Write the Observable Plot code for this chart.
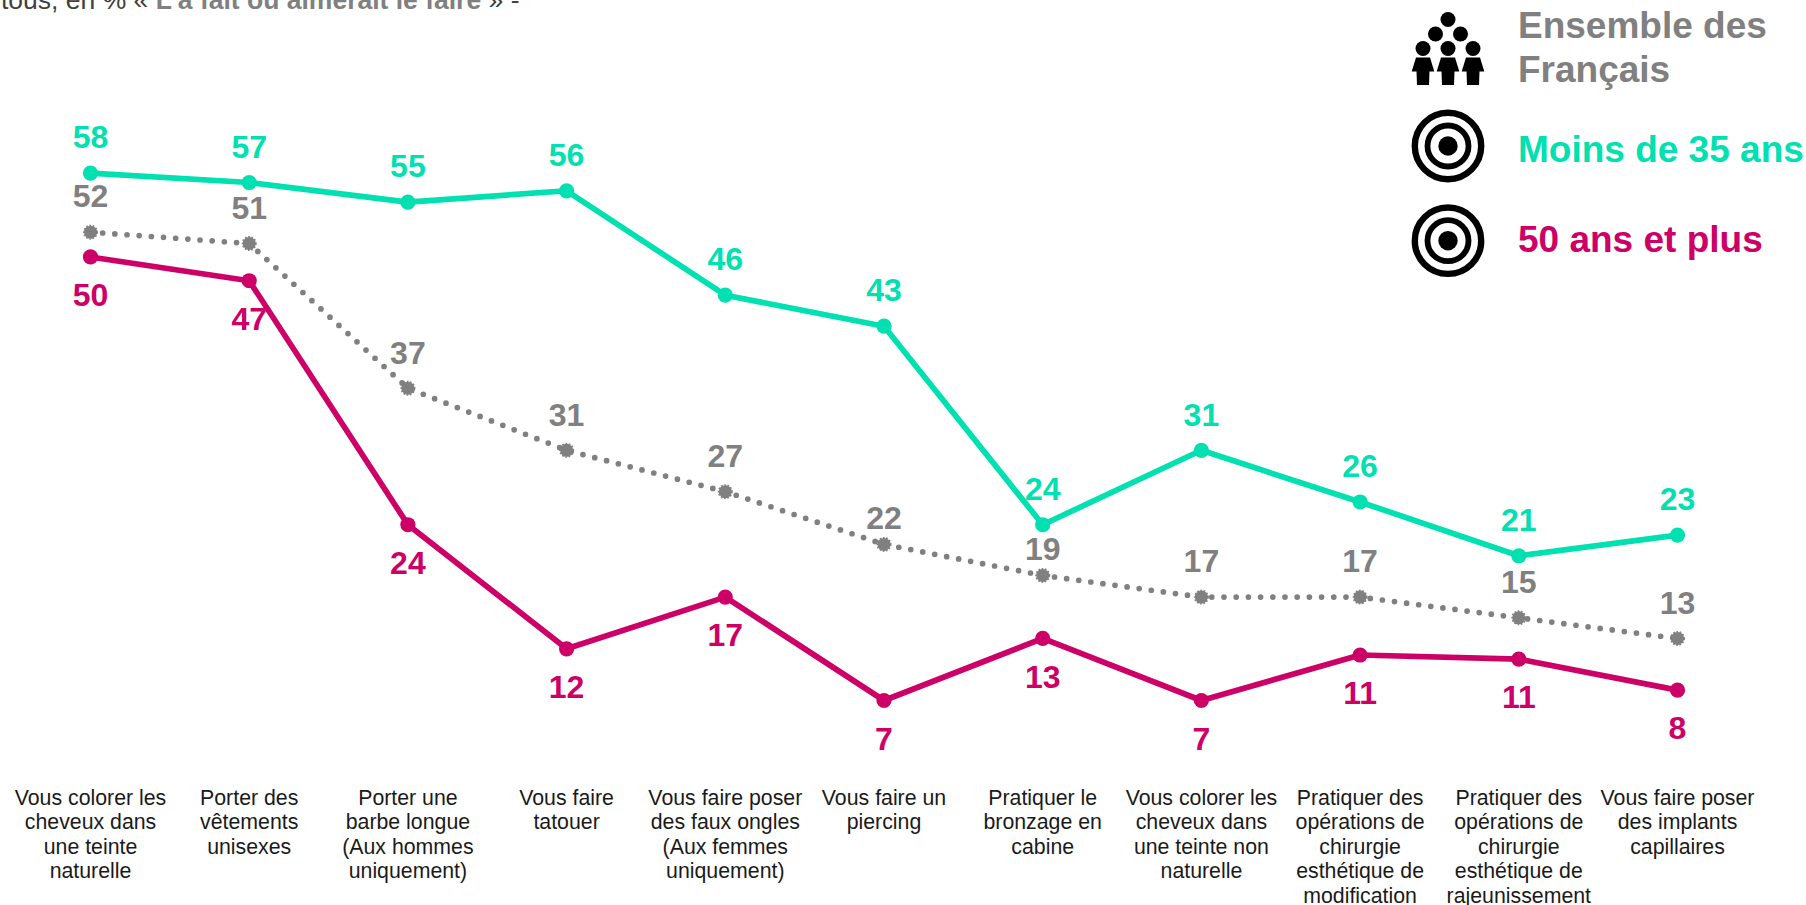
<!DOCTYPE html>
<html lang="fr"><head><meta charset="utf-8">
<script src="https://cdn.jsdelivr.net/npm/d3@7"></script>
<script src="https://cdn.jsdelivr.net/npm/@observablehq/plot@0.6"></script>
<style>
html,body{margin:0;padding:0;background:#fff;overflow:hidden;width:1806px;height:905px}
#wrap{position:relative;width:1806px;height:905px;overflow:hidden;font-family:"Liberation Sans",Arial,sans-serif}
#wrap svg{position:absolute;left:0;top:0;font-family:"Liberation Sans",Arial,sans-serif}
.t{position:absolute;white-space:nowrap}
.lg{position:absolute;font-weight:bold;font-size:37px;line-height:44px;left:1518px;white-space:nowrap}
</style></head><body><div id="wrap"></div>
<script>
const categories=[
"Vous colorer les\ncheveux dans\nune teinte\nnaturelle",
"Porter des\nvêtements\nunisexes",
"Porter une\nbarbe longue\n(Aux hommes\nuniquement)",
"Vous faire\ntatouer",
"Vous faire poser\ndes faux ongles\n(Aux femmes\nuniquement)",
"Vous faire un\npiercing",
"Pratiquer le\nbronzage en\ncabine",
"Vous colorer les\ncheveux dans\nune teinte non\nnaturelle",
"Pratiquer des\nopérations de\nchirurgie\nesthétique de\nmodification",
"Pratiquer des\nopérations de\nchirurgie\nesthétique de\nrajeunissement",
"Vous faire poser\ndes implants\ncapillaires"];
const moins35=[58,57.1,55.2,56.3,46.2,43.2,24,31.2,26.2,21,23];
const moins35Labels=[58,57,55,56,46,43,24,31,26,21,23];
const ensemble=[52.3,51.2,37.2,31.2,27.2,22.1,19.1,17,17,15,13];
const ensembleLabels=[52,51,37,31,27,22,19,17,17,15,13];
const plus50=[49.9,47.6,24,12,17,7,13,7,11.4,11,8];
const plus50Labels=[50,47,24,12,17,7,13,7,11,11,8];
const teal="#00E0B0",pink="#CC0066",gray="#808080";
const rows=(vals,labs)=>categories.map((c,i)=>({c,v:vals[i],l:labs[i]}));
const A=rows(moins35,moins35Labels),B=rows(ensemble,ensembleLabels),C=rows(plus50,plus50Labels);
const closeLabels=new Set([22,19]);
const numFont={fontSize:32,fontWeight:"bold",lineAnchor:"middle",textAnchor:"middle"};
const chart=Plot.plot({
  width:1806,height:905,marginLeft:90,marginRight:129,marginTop:172.7,marginBottom:205,
  x:{type:"point",domain:categories,padding:0,round:false},
  y:{domain:[7,58],axis:null},
  style:{background:"transparent",overflow:"visible"},
  marks:[
    Plot.axisX({anchor:"bottom",tickSize:0,tickPadding:0,label:null,fontSize:21.3,lineHeight:1.15,textOverflow:null,fill:"#1a1a1a",lineAnchor:"top",tickFormat:d=>d,dy:87}),
    Plot.text(A,{x:"c",y:"v",text:"l",fill:teal,dy:-35,...numFont}),
    Plot.text(B.filter(d=>!closeLabels.has(d.l)),{x:"c",y:"v",text:"l",fill:gray,dy:-35,...numFont}),
    Plot.text(B.filter(d=>closeLabels.has(d.l)),{x:"c",y:"v",text:"l",fill:gray,dy:-26,...numFont}),
    Plot.text(C,{x:"c",y:"v",text:"l",fill:pink,dy:39,...numFont}),
    Plot.line(B,{x:"c",y:"v",stroke:gray,strokeWidth:5.7,strokeDasharray:"0 12.2",strokeLinecap:"round"}),
    Plot.dot(B,{x:"c",y:"v",r:6.5,fill:gray,stroke:gray,strokeWidth:2,strokeDasharray:"1.6 1.6"}),
    Plot.line(A,{x:"c",y:"v",stroke:teal,strokeWidth:5.7}),
    Plot.dot(A,{x:"c",y:"v",r:7.6,fill:teal}),
    Plot.line(C,{x:"c",y:"v",stroke:pink,strokeWidth:5.7}),
    Plot.dot(C,{x:"c",y:"v",r:7.6,fill:pink})
  ]
});
const wrap=document.getElementById("wrap");
wrap.appendChild(chart);
const NS="http://www.w3.org/2000/svg";
const icons=document.createElementNS(NS,"svg");
icons.setAttribute("width",1806);icons.setAttribute("height",905);
let s="";
for(const cy of [146,240.7]){
  s+=`<circle cx="1448" cy="${cy}" r="33.2" fill="none" stroke="#000" stroke-width="6.4"/>`;
  s+=`<circle cx="1448" cy="${cy}" r="20.5" fill="none" stroke="#000" stroke-width="5.8"/>`;
  s+=`<circle cx="1448" cy="${cy}" r="9.7" fill="#000"/>`;
}
for(const [x,y] of [[1448,19.5],[1435.5,34],[1460.5,34],[1423,48.5],[1448,48.5],[1473,48.5]])
  s+=`<circle cx="${x}" cy="${y}" r="7.5" fill="#000"/>`;
for(const c of [1423,1448,1473])
  s+=`<path transform="translate(${c},0)" d="M-7,57.5H7L11.3,71.5H6.5L6,85H-6L-6.5,71.5H-11.3Z" fill="#000"/>`;
icons.innerHTML=s;
wrap.appendChild(icons);
function addText(html,css,cls){const d=document.createElement("div");d.className=cls||"t";d.style.cssText=css;d.innerHTML=html;wrap.appendChild(d);}
addText('tous, en % « <b style="color:#808080">L’a fait ou aimerait le faire</b> » -','left:1px;top:-16px;font-size:26.5px;line-height:32px;color:#404040');
addText('Ensemble des<br>Français','top:4px;color:#808080',"lg");
addText('Moins de 35 ans','top:128px;color:'+teal,"lg");
addText('50 ans et plus','top:218px;color:'+pink,"lg");
</script></body></html>
